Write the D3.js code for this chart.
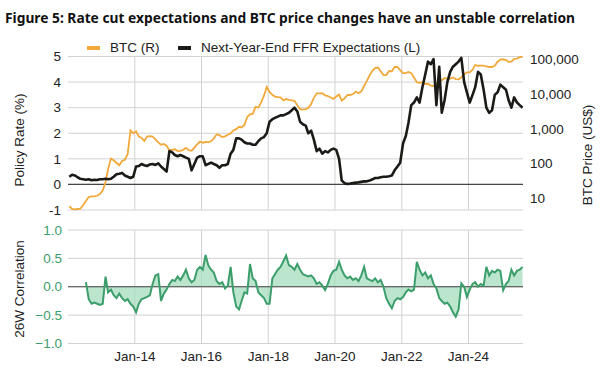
<!DOCTYPE html>
<html lang="en">
<head>
<meta charset="utf-8">
<script src="https://cdn.jsdelivr.net/npm/d3@7"></script>
<style>
  body { margin: 0; background: #fff; }
  svg { display: block; font-family: "Liberation Sans", Arial, sans-serif; }
</style>
</head>
<body>
<svg id="chart" width="600" height="370"></svg>
<script>
// monthly values, Jan 2012 onwards
var btcPrice = [
  6, 5, 4.9, 5, 5.1, 6.5, 8.5, 11, 11.5, 11.5, 12, 13.4,
  17, 30, 70, 140, 125, 105, 90, 120, 130, 190, 900, 750,
  850, 600, 560, 450, 600, 620, 600, 500, 410, 350, 370, 330,
  240, 250, 260, 230, 235, 250, 285, 245, 235, 290, 360, 430,
  400, 420, 415, 440, 530, 700, 660, 580, 610, 680, 740, 900,
  980, 1150, 1100, 1300, 2200, 2600, 2700, 4300, 4100, 5800, 9000, 16000,
  11500, 9500, 8500, 8200, 8000, 6600, 7200, 6800, 6600, 6400, 4800, 3700,
  3600, 3700, 4000, 5200, 7800, 10500, 10500, 10600, 9200, 8800, 8000, 7300,
  8500, 9600, 6500, 7500, 9300, 9400, 10000, 11700, 10600, 12000, 17000, 24000,
  35000, 47000, 56000, 58000, 45000, 35000, 35000, 46000, 45000, 60000, 60000, 49000,
  40000, 40000, 43000, 40000, 30000, 22000, 21000, 22000, 19500, 19800, 17500, 17000,
  20000, 23500, 25000, 29000, 27500, 28000, 30000, 27000, 26500, 30000, 37000, 42000,
  42000, 50000, 68000, 65000, 66000, 66000, 62000, 60000, 60000, 65000, 85000, 98000,
  100000, 95000, 84000, 85000, 102000, 105000, 115000, 118000
];

var ffrExpect = [
  0.3, 0.38, 0.35, 0.28, 0.22, 0.2, 0.18, 0.2, 0.16, 0.18, 0.17, 0.2,
  0.2, 0.22, 0.2, 0.22, 0.3, 0.4, 0.42, 0.45, 0.35, 0.3, 0.25, 0.3,
  0.7, 0.72, 0.8, 0.75, 0.72, 0.78, 0.8, 0.76, 0.82, 0.7, 0.6, 0.5,
  1.3, 1.25, 1.15, 1.1, 1.15, 1.1, 1.05, 1.0, 0.55, 0.8, 1.05, 1.1,
  1.1, 0.75, 0.8, 0.85, 0.8, 0.75, 0.65, 0.75, 0.75, 0.8, 1.2, 1.35,
  1.8, 1.8, 1.75, 1.65, 1.6, 1.6, 1.55, 1.55, 1.7, 1.8, 1.85, 2.0,
  2.45, 2.55, 2.6, 2.65, 2.7, 2.7, 2.75, 2.8, 2.9, 3.0, 2.85, 2.45,
  2.35, 2.3, 2.0, 2.1, 1.75, 1.3, 1.4, 1.2, 1.3, 1.25, 1.35, 1.4,
  1.35, 1.0, 0.15, 0.05, 0.02, 0.03, 0.05, 0.07, 0.08, 0.1, 0.12, 0.12,
  0.15, 0.2, 0.25, 0.25, 0.28, 0.3, 0.3, 0.32, 0.35, 0.55, 0.7, 0.85,
  1.6, 1.9, 2.4, 3.1, 3.2, 3.4, 3.2, 3.8, 4.3, 4.8, 4.7, 4.9,
  3.1, 4.6, 2.8, 3.3, 4.0, 4.4, 4.6, 4.7, 4.8, 4.95, 4.0, 3.6,
  3.2, 3.5, 3.8, 4.4, 4.3, 3.7, 3.0, 2.8, 2.9, 3.5, 3.6, 3.9,
  3.8, 3.7, 3.3, 3.0, 3.4, 3.2, 3.1, 3.0
];

// monthly, Jul 2012 onwards
var corr26w = [
  0.08, -0.22, -0.3, -0.28, -0.3, -0.32,
  -0.3, 0.18, -0.1, -0.05, -0.15, -0.2, -0.12, -0.2, -0.25, -0.22, -0.3, -0.35,
  -0.45, -0.3, -0.22, -0.2, -0.18, -0.15, 0.05, 0.2, 0.22, -0.25, -0.12, -0.05,
  0.05, 0.12, 0.1, 0.18, 0.12, 0.2, 0.3, 0.15, 0.08, 0.12, 0.3, 0.35,
  0.3, 0.56, 0.38, 0.3, 0.25, 0.1, 0.05, 0.08, -0.03, 0.02, 0.35, -0.1,
  -0.35, -0.4, -0.25, -0.1, -0.12, 0.4, 0.15, 0.1, -0.1, -0.15, -0.2, -0.3,
  -0.3, 0.15, 0.22, 0.3, 0.35, 0.45, 0.55, 0.38, 0.35, 0.3, 0.4, 0.3,
  0.22, 0.2, 0.18, 0.2, 0.15, 0.05, 0.08, 0.02, -0.06, 0.05, 0.2, 0.28,
  0.3, 0.44, 0.3, 0.2, 0.15, 0.18, 0.12, 0.15, 0.1, 0.2, 0.35, 0.15,
  0.12, 0.1, 0.15, 0.08, 0.12, 0.0, -0.2, -0.3, -0.38, -0.25, -0.2, -0.22,
  -0.18, -0.1, -0.05, -0.08, -0.05, 0.44, 0.3, 0.2, 0.25, 0.15, 0.2, 0.05,
  -0.03, -0.2, -0.25, -0.3, -0.28, -0.35, -0.45, -0.53, -0.4, 0.06, 0.0, -0.18,
  -0.05, 0.05, 0.08, 0.0, 0.05, 0.02, 0.35, 0.2, 0.28, 0.25, 0.3, 0.28,
  -0.06, 0.05, 0.1, 0.3, 0.2, 0.28, 0.3, 0.35
];

var leftTicks = [-1, 0, 1, 2, 3, 4, 5];
var rightTicks = [10, 100, 1000, 10000, 100000];
var corrTicks = [-1, -0.5, 0, 0.5, 1];
var xTickYears = [2014, 2016, 2018, 2020, 2022, 2024];

var svg = d3.select('#chart');

function monthDate(startYear, startMonth, i) {
  return new Date(startYear, startMonth + i, 15);
}

var btcData = btcPrice.map(function(v, i) { return {date: monthDate(2012, 0, i), v: v}; });
var ffrData = ffrExpect.map(function(v, i) { return {date: monthDate(2012, 0, i), v: v}; });
var corrData = corr26w.map(function(v, i) { return {date: monthDate(2012, 6, i), v: v}; });

var x = d3.scaleTime()
  .domain([new Date(2012, 0, 1), new Date(2025, 7, 20)])
  .range([68, 523]);
var yL = d3.scaleLinear().domain([-1, 5]).range([210, 56.5]);
var yR = d3.scaleLog().domain([4.68, 120000]).range([210, 56.5]);
var yC = d3.scaleLinear().domain([-1, 1]).range([343.5, 230]);

var grid = '#d2d2d2';
var green = '#3c9e6b';

// title
svg.append('text')
  .attr('x', 5).attr('y', 23)
  .attr('textLength', 570).attr('lengthAdjust', 'spacingAndGlyphs')
  .style('font-family', '"Noto Sans", "Open Sans", sans-serif')
  .style('font-weight', 'bold').style('font-size', '13.5px')
  .attr('fill', '#111')
  .text('Figure 5: Rate cut expectations and BTC price changes have an unstable correlation');

// legend
var legend = [
  {label: 'BTC (R)', color: '#f0a93a', x: 87},
  {label: 'Next-Year-End FFR Expectations (L)', color: '#1c1a17', x: 178}
];
legend.forEach(function(d) {
  svg.append('rect').attr('x', d.x).attr('y', 46).attr('width', 13).attr('height', 4).attr('fill', d.color);
  svg.append('text').attr('x', d.x + 23).attr('y', 52)
    .style('font-size', '13.5px').attr('fill', '#222').text(d.label);
});

// top panel gridlines
svg.append('g').selectAll('line').data(leftTicks).enter().append('line')
  .attr('x1', 68).attr('x2', 523)
  .attr('y1', function(d) { return yL(d); }).attr('y2', function(d) { return yL(d); })
  .attr('stroke', grid).attr('stroke-width', 1);
svg.append('g').selectAll('line').data(xTickYears).enter().append('line')
  .attr('x1', function(d) { return x(new Date(d, 0, 1)); })
  .attr('x2', function(d) { return x(new Date(d, 0, 1)); })
  .attr('y1', 56.5).attr('y2', 210)
  .attr('stroke', grid).attr('stroke-width', 1);

// bottom panel gridlines
svg.append('g').selectAll('line').data(corrTicks).enter().append('line')
  .attr('x1', 68).attr('x2', 523)
  .attr('y1', function(d) { return yC(d); }).attr('y2', function(d) { return yC(d); })
  .attr('stroke', grid).attr('stroke-width', 1);
svg.append('g').selectAll('line').data(xTickYears).enter().append('line')
  .attr('x1', function(d) { return x(new Date(d, 0, 1)); })
  .attr('x2', function(d) { return x(new Date(d, 0, 1)); })
  .attr('y1', 230).attr('y2', 343.5)
  .attr('stroke', grid).attr('stroke-width', 1);

// zero lines
svg.append('line').attr('x1', 68).attr('x2', 523).attr('y1', yL(0)).attr('y2', yL(0))
  .attr('stroke', '#444').attr('stroke-width', 1.2);

// tick labels
svg.append('g').selectAll('text').data(leftTicks).enter().append('text')
  .attr('x', 61).attr('y', function(d) { return yL(d); }).attr('dy', '0.35em')
  .attr('text-anchor', 'end').style('font-size', '13.5px').attr('fill', '#222')
  .text(function(d) { return d; });
svg.append('g').selectAll('text').data(rightTicks).enter().append('text')
  .attr('x', 530).attr('y', function(d) { return yR(d); }).attr('dy', '0.35em')
  .style('font-size', '13.5px').attr('fill', '#222')
  .text(function(d) { return d3.format(',')(d); });
svg.append('g').selectAll('text').data(corrTicks).enter().append('text')
  .attr('x', 62).attr('y', function(d) { return yC(d); }).attr('dy', '0.35em')
  .attr('text-anchor', 'end').style('font-size', '13.5px').attr('fill', green)
  .text(function(d) { return d3.format('.1f')(d); });
svg.append('g').selectAll('text').data(xTickYears).enter().append('text')
  .attr('x', function(d) { return x(new Date(d, 0, 1)); }).attr('y', 361)
  .attr('text-anchor', 'middle').style('font-size', '13.5px').attr('fill', '#222')
  .text(function(d) { return d3.timeFormat('%b-%y')(new Date(d, 0, 1)); });

// axis titles
function vTitle(label, cx, cy) {
  svg.append('text')
    .attr('transform', 'translate(' + cx + ',' + cy + ') rotate(-90)')
    .attr('text-anchor', 'middle').attr('dy', '0.35em')
    .style('font-size', '13.5px').attr('fill', '#222').text(label);
}
vTitle('Policy Rate (%)', 19, 140);
vTitle('BTC Price (US$)', 587, 155);
vTitle('26W Correlation', 19, 289);

// correlation area + line
svg.append('path').datum(corrData)
  .attr('d', d3.area()
    .x(function(d) { return x(d.date); })
    .y0(yC(0))
    .y1(function(d) { return yC(d.v); }))
  .attr('fill', '#a6dcbd').attr('opacity', 0.75);
svg.append('line').attr('x1', 68).attr('x2', 523).attr('y1', yC(0)).attr('y2', yC(0))
  .attr('stroke', '#444').attr('stroke-width', 1.2);
svg.append('path').datum(corrData)
  .attr('d', d3.line().x(function(d) { return x(d.date); }).y(function(d) { return yC(d.v); }))
  .attr('fill', 'none').attr('stroke', green).attr('stroke-width', 2);

// BTC line
svg.append('path').datum(btcData)
  .attr('d', d3.line().x(function(d) { return x(d.date); }).y(function(d) { return yR(d.v); }))
  .attr('fill', 'none').attr('stroke', '#f0a93a').attr('stroke-width', 1.8);

// FFR line
svg.append('path').datum(ffrData)
  .attr('d', d3.line().x(function(d) { return x(d.date); }).y(function(d) { return yL(d.v); }))
  .attr('fill', 'none').attr('stroke', '#1c1a17').attr('stroke-width', 2.6)
  .attr('stroke-linejoin', 'round');
</script>
</body>
</html>
